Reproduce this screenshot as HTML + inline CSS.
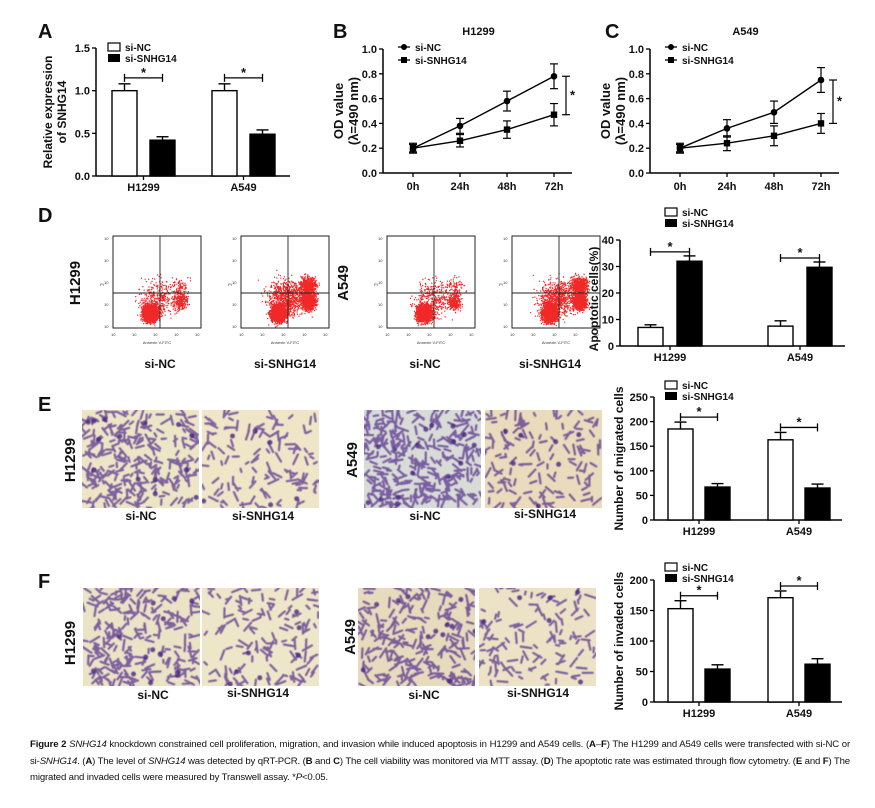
<!DOCTYPE html>
<html><head><meta charset="utf-8"><style>
body{margin:0;background:#fff;width:875px;height:808px;overflow:hidden;position:relative;font-family:"Liberation Sans",sans-serif}
svg{position:absolute;left:0;top:0}
#cap{position:absolute;left:30px;top:737px;width:820px;font-size:9.6px;line-height:16.5px;text-align:justify;color:#111;letter-spacing:-0.15px}
</style></head><body>
<svg id="fig" width="875" height="808">
<defs>
<filter id="blur1"><feGaussianBlur stdDeviation="0.5"/></filter>
</defs>
</svg>
<div id="cap"><b>Figure 2</b> <i>SNHG14</i> knockdown constrained cell proliferation, migration, and invasion while induced apoptosis in H1299 and A549 cells. (<b>A</b>–<b>F</b>) The H1299 and A549 cells were transfected with si-NC or si-<i>SNHG14</i>. (<b>A</b>) The level of <i>SNHG14</i> was detected by qRT-PCR. (<b>B</b> and <b>C</b>) The cell viability was monitored via MTT assay. (<b>D</b>) The apoptotic rate was estimated through flow cytometry. (<b>E</b> and <b>F</b>) The migrated and invaded cells were measured by Transwell assay. *<i>P</i>&lt;0.05.</div>
<script>
// ---- data ----
const groups = ["H1299", "A549"];
const aNC = [1.0, 1.0], aNCerr = [0.08, 0.08], aSN = [0.42, 0.49], aSNerr = [0.04, 0.05];
const aTicks = [0, 0.5, 1.0, 1.5];
const times = ["0h", "24h", "48h", "72h"];
const bNC = [0.2, 0.38, 0.58, 0.78], bNCerr = [0.04, 0.06, 0.08, 0.1];
const bSN = [0.2, 0.26, 0.35, 0.47], bSNerr = [0.03, 0.05, 0.07, 0.09];
const cNC = [0.2, 0.36, 0.49, 0.75], cNCerr = [0.04, 0.07, 0.09, 0.1];
const cSN = [0.2, 0.24, 0.30, 0.40], cSNerr = [0.03, 0.06, 0.08, 0.08];
const lineTicks = [0, 0.2, 0.4, 0.6, 0.8, 1.0];
const dNC = [7, 7.5], dNCerr = [1, 2], dSN = [32, 29.7], dSNerr = [2, 2];
const dTicks = [0, 10, 20, 30, 40];
const eNC = [185, 163], eNCerr = [14, 15], eSN = [67, 65], eSNerr = [7, 8];
const eTicks = [0, 50, 100, 150, 200, 250];
const fNC = [153, 171], fNCerr = [13, 11], fSN = [54, 62], fSNerr = [7, 9];
const fTicks = [0, 50, 100, 150, 200];

const NS = "http://www.w3.org/2000/svg";
const svg = document.getElementById("fig");
const defs = svg.querySelector("defs");
function el(tag, attrs, parent, text) {
  const e = document.createElementNS(NS, tag);
  for (const k in attrs) e.setAttribute(k, attrs[k]);
  if (text !== undefined) e.textContent = text;
  (parent || svg).appendChild(e);
  return e;
}
function txt(x, y, s, size, opts, parent) {
  const a = Object.assign({x: x, y: y, "font-size": size, "font-family": "Liberation Sans, sans-serif", fill: "#111"}, opts || {});
  return el("text", a, parent, s);
}
function panelLabel(x, y, s) {
  const t = txt(x, y, s, 20, {"font-weight": "bold"});
  
  
}
function legend(g, x, y) {
  const r1 = el("rect", {x: x, y: y, width: 12, height: 8, fill: "#fff", stroke: "#000", "stroke-width": 1.2}, g);
  
  
  const t1 = txt(x + 17, y + 8, "si-NC", 10, {"font-weight": "bold"}, g);
  
  
  const r2 = el("rect", {x: x, y: y + 11, width: 12, height: 8, fill: "#000"}, g);
  
  
  const t2 = txt(x + 17, y + 19, "si-SNHG14", 10, {"font-weight": "bold"}, g);
  
  
}

function barChart(cfg) {
  const g = el("g", {});
  
  
  const ymax = cfg.ticks[cfg.ticks.length - 1];
  const Y = v => cfg.y0 - v / ymax * (cfg.y0 - cfg.yTop);
  el("line", {x1: cfg.ax, y1: cfg.yTop, x2: cfg.ax, y2: cfg.y0, stroke: "#000", "stroke-width": 1.5}, g);
  el("line", {x1: cfg.ax, y1: cfg.y0, x2: cfg.axEnd, y2: cfg.y0, stroke: "#000", "stroke-width": 1.5}, g);
  cfg.ticks.forEach(t => {
    el("line", {x1: cfg.ax - 4, y1: Y(t), x2: cfg.ax, y2: Y(t), stroke: "#000", "stroke-width": 1.3}, g);
    const lab = txt(cfg.ax - 6, Y(t) + 4, cfg.fmt(t), 11, {"text-anchor": "end", "font-weight": "bold"}, g);
    
    
  });
  const yl = txt(0, 0, cfg.ylabel, 12, {"text-anchor": "middle", "font-weight": "bold", transform: `translate(${cfg.ylx},${(cfg.yTop + cfg.y0) / 2 + (cfg.ylShift || 0)}) rotate(-90)`}, g);
  
  
  if (cfg.ylabel2) {
    const y2 = txt(0, 0, cfg.ylabel2, 12, {"text-anchor": "middle", "font-weight": "bold", transform: `translate(${cfg.ylx + 14},${(cfg.yTop + cfg.y0) / 2}) rotate(-90)`}, g);
    
    
  }
  const bw = cfg.bw;
  groups.forEach((gname, i) => {
    const gx = cfg.gx[i];
    const xs = [gx, gx + bw + cfg.gap];
    [[cfg.nc, cfg.ncErr, "#fff", "si-nc"], [cfg.sn, cfg.snErr, "#000", "si-snhg14"]].forEach(([vals, errs, fill, nm], j) => {
      const v = vals[i], e = errs[i];
      const cx = xs[j] + bw / 2;
      el("line", {x1: cx, y1: Y(v + e), x2: cx, y2: Y(v), stroke: "#000", "stroke-width": 1.4}, g);
      el("line", {x1: cx - 6, y1: Y(v + e), x2: cx + 6, y2: Y(v + e), stroke: "#000", "stroke-width": 1.4}, g);
      const r = el("rect", {x: xs[j], y: Y(v), width: bw, height: cfg.y0 - Y(v), fill: fill, stroke: "#000", "stroke-width": 1.4}, g);
      
      
    });
    const by = Y(Math.max(cfg.nc[i] + cfg.ncErr[i], cfg.sn[i] + cfg.snErr[i])) - cfg.bracketGap;
    const x1 = xs[0] + bw / 2, x2 = xs[1] + bw / 2;
    el("line", {x1: x1, y1: by, x2: x2, y2: by, stroke: "#000", "stroke-width": 1.3}, g);
    el("line", {x1: x1, y1: by - 4, x2: x1, y2: by + 4, stroke: "#000", "stroke-width": 1.3}, g);
    el("line", {x1: x2, y1: by - 4, x2: x2, y2: by + 4, stroke: "#000", "stroke-width": 1.3}, g);
    const s = txt((x1 + x2) / 2, by - 1, "*", 13, {"text-anchor": "middle", "font-weight": "bold"}, g);
    
    
    el("line", {x1: gx + bw + cfg.gap / 2, y1: cfg.y0, x2: gx + bw + cfg.gap / 2, y2: cfg.y0 + 4, stroke: "#000", "stroke-width": 1.3}, g);
    const gl = txt(gx + bw + cfg.gap / 2, cfg.y0 + 15, gname, 11, {"text-anchor": "middle", "font-weight": "bold"}, g);
    
    
  });
  legend(g, cfg.legX, cfg.legY);
}

function lineChart(cfg) {
  const g = el("g", {});
  
  
  const Y = v => cfg.y0 - v * (cfg.y0 - cfg.yTop);
  const X = i => cfg.x0 + i * cfg.dx;
  el("line", {x1: cfg.ax, y1: cfg.yTop, x2: cfg.ax, y2: cfg.y0, stroke: "#000", "stroke-width": 1.5}, g);
  el("line", {x1: cfg.ax, y1: cfg.y0, x2: X(3) + 18, y2: cfg.y0, stroke: "#000", "stroke-width": 1.5}, g);
  lineTicks.forEach(t => {
    el("line", {x1: cfg.ax - 4, y1: Y(t), x2: cfg.ax, y2: Y(t), stroke: "#000", "stroke-width": 1.3}, g);
    const l = txt(cfg.ax - 6, Y(t) + 4, t.toFixed(1), 11, {"text-anchor": "end", "font-weight": "bold"}, g);
    
    
  });
  times.forEach((t, i) => {
    el("line", {x1: X(i), y1: cfg.y0, x2: X(i), y2: cfg.y0 + 4, stroke: "#000", "stroke-width": 1.3}, g);
    const l = txt(X(i), cfg.y0 + 17, t, 11, {"text-anchor": "middle", "font-weight": "bold"}, g);
    
    
  });
  const tt = txt((cfg.ax + X(3)) / 2 + 10, cfg.titleY, cfg.title, 11, {"text-anchor": "middle", "font-weight": "bold"}, g);
  
  
  const mid = (cfg.yTop + cfg.y0) / 2;
  const y1 = txt(0, 0, "OD value", 13, {"text-anchor": "middle", "font-weight": "bold", transform: `translate(${cfg.ax - 40},${mid}) rotate(-90)`}, g);
  
  
  const y2 = txt(0, 0, "(λ=490 nm)", 13, {"text-anchor": "middle", "font-weight": "bold", transform: `translate(${cfg.ax - 25},${mid}) rotate(-90)`}, g);
  
  
  [[cfg.nc, cfg.ncErr, "circle", "si-nc"], [cfg.sn, cfg.snErr, "square", "si-snhg14"]].forEach(([vals, errs, mk, nm]) => {
    const pts = vals.map((v, i) => X(i) + "," + Y(v)).join(" ");
    const pl = el("polyline", {points: pts, fill: "none", stroke: "#000", "stroke-width": 1.4}, g);
    
    
    vals.forEach((v, i) => {
      const e = errs[i];
      el("line", {x1: X(i), y1: Y(v + e), x2: X(i), y2: Y(v - e), stroke: "#000", "stroke-width": 1.2}, g);
      el("line", {x1: X(i) - 4, y1: Y(v + e), x2: X(i) + 4, y2: Y(v + e), stroke: "#000", "stroke-width": 1.2}, g);
      el("line", {x1: X(i) - 4, y1: Y(v - e), x2: X(i) + 4, y2: Y(v - e), stroke: "#000", "stroke-width": 1.2}, g);
      let m;
      if (mk === "circle") m = el("circle", {cx: X(i), cy: Y(v), r: 3.3, fill: "#000"}, g);
      else m = el("rect", {x: X(i) - 3.2, y: Y(v) - 3.2, width: 6.4, height: 6.4, fill: "#000"}, g);
      
      
    });
  });
  const lx = cfg.ax + 15, ly = cfg.yTop - 2;
  el("line", {x1: lx, y1: ly, x2: lx + 12, y2: ly, stroke: "#000", "stroke-width": 1.3}, g);
  el("circle", {cx: lx + 6, cy: ly, r: 3, fill: "#000"}, g);
  const l1 = txt(lx + 17, ly + 4, "si-NC", 10, {"font-weight": "bold"}, g);
  
  
  el("line", {x1: lx, y1: ly + 13, x2: lx + 12, y2: ly + 13, stroke: "#000", "stroke-width": 1.3}, g);
  el("rect", {x: lx + 3, y: ly + 10, width: 6, height: 6, fill: "#000"}, g);
  const l2 = txt(lx + 17, ly + 17, "si-SNHG14", 10, {"font-weight": "bold"}, g);
  
  
  const bx = X(3) + 12;
  const top = Y(cfg.nc[3]), bot = Y(cfg.sn[3]);
  el("line", {x1: bx, y1: top, x2: bx, y2: bot, stroke: "#000", "stroke-width": 1.2}, g);
  el("line", {x1: bx - 4, y1: top, x2: bx + 4, y2: top, stroke: "#000", "stroke-width": 1.2}, g);
  el("line", {x1: bx - 4, y1: bot, x2: bx + 4, y2: bot, stroke: "#000", "stroke-width": 1.2}, g);
  const st = txt(bx + 4, (top + bot) / 2 + 4, "*", 13, {"font-weight": "bold"}, g);
  
  
}

panelLabel(38, 38, "A"); panelLabel(333, 38, "B"); panelLabel(605, 38, "C");
panelLabel(38, 222, "D"); panelLabel(38, 411, "E"); panelLabel(38, 588, "F");

barChart({name: "chart-a-relative-expression", ax: 96, axEnd: 290, y0: 176, yTop: 48, ticks: aTicks, fmt: t => t.toFixed(1),
  nc: aNC, ncErr: aNCerr, sn: aSN, snErr: aSNerr, gx: [112, 212], bw: 25, gap: 13, bracketGap: 6,
  ylabel: "Relative expression", ylabel2: "of SNHG14", ylx: 52, legX: 108, legY: 43});
lineChart({name: "chart-b-h1299-mtt", ax: 383, x0: 413, dx: 47, y0: 173, yTop: 49, nc: bNC, ncErr: bNCerr, sn: bSN, snErr: bSNerr, title: "H1299", titleY: 35});
lineChart({name: "chart-c-a549-mtt", ax: 650, x0: 680, dx: 47, y0: 173, yTop: 49, nc: cNC, ncErr: cNCerr, sn: cSN, snErr: cSNerr, title: "A549", titleY: 35});
barChart({name: "chart-d-apoptotic-cells", ax: 620, axEnd: 845, y0: 346, yTop: 240, ticks: dTicks, fmt: t => String(t),
  nc: dNC, ncErr: dNCerr, sn: dSN, snErr: dSNerr, gx: [638, 768], bw: 25, gap: 14, bracketGap: 4,
  ylabel: "Apoptotic cells(%)", ylx: 598, ylShift: 6, legX: 665, legY: 208});
barChart({name: "chart-e-migrated-cells", ax: 654, axEnd: 842, y0: 520, yTop: 397, ticks: eTicks, fmt: t => String(t),
  nc: eNC, ncErr: eNCerr, sn: eSN, snErr: eSNerr, gx: [668, 768], bw: 25, gap: 12, bracketGap: 5,
  ylabel: "Number of migrated cells", ylx: 623, legX: 665, legY: 381});
barChart({name: "chart-f-invaded-cells", ax: 654, axEnd: 842, y0: 702, yTop: 580, ticks: fTicks, fmt: t => String(t),
  nc: fNC, ncErr: fNCerr, sn: fSN, snErr: fSNerr, gx: [668, 768], bw: 25, gap: 12, bracketGap: 5,
  ylabel: "Number of invaded cells", ylx: 623, legX: 665, legY: 563});

// Flow cytometry plots: [x, name, lowerRightCount, upperRightCount, diffuse]
const flowBoxes = [[113, "h1299-si-nc", 260, 90, 350], [241, "h1299-si-snhg14", 1000, 650, 900], [387, "a549-si-nc", 300, 90, 350], [512, "a549-si-snhg14", 950, 650, 800]];
let seed = 7;
function rnd() { seed = (seed * 16807) % 2147483647; return seed / 2147483647; }
function gauss() { return (rnd() + rnd() + rnd() + rnd() - 2) / 1.15; }
flowBoxes.forEach(([bx, nm, nLR, nUR, nDiff]) => {
  const g = el("g", {});
  
  
  const w = 88, h = 92, by = 236;
  let d = "";
  function dot(cx, cy) {
    if (cx < bx + 1 || cx > bx + w - 1 || cy < by + 1 || cy > by + h - 1) return;
    d += `M${cx.toFixed(1)} ${cy.toFixed(1)}h1.2v1.2h-1.2z`;
  }
  for (let k = 0; k < 1600; k++) dot(bx + 37 + gauss() * 7.5, by + 77 + gauss() * 8.5);
  for (let k = 0; k < nLR; k++) dot(bx + 67 + gauss() * 7, by + 65 + gauss() * 8);
  for (let k = 0; k < nUR; k++) dot(bx + 67 + gauss() * 8, by + 50 + gauss() * 9);
  for (let k = 0; k < nDiff; k++) dot(bx + 45 + gauss() * 18, by + 62 + gauss() * 18);
  el("path", {d: d, fill: "#f02828"}, g);
  el("rect", {x: bx, y: by, width: w, height: h, fill: "none", stroke: "#222", "stroke-width": 1}, g);
  el("line", {x1: bx + 47, y1: by, x2: bx + 47, y2: by + h, stroke: "#222", "stroke-width": 0.9}, g);
  el("line", {x1: bx, y1: by + 57, x2: bx + w, y2: by + 57, stroke: "#222", "stroke-width": 0.9}, g);
  for (let k = 0; k < 5; k++) {
    txt(bx - 9, by + 4 + k * 22, "10", 4, {fill: "#333"}, g);
    txt(bx - 2 + k * 21, by + h + 8, "10", 4, {fill: "#333"}, g);
  }
  txt(bx + w / 2, by + h + 16, "Annexin V-FITC", 4, {"text-anchor": "middle", fill: "#333"}, g);
  txt(bx - 13, by + 50, "PI", 4, {fill: "#333"}, g);
});
[[160, 368, "si-NC"], [285, 368, "si-SNHG14"], [425, 368, "si-NC"], [550, 368, "si-SNHG14"]].forEach(([x, y, s]) => {
  const t = txt(x, y, s, 12, {"text-anchor": "middle", "font-weight": "bold"});
  
  
});
[[80, 283, "H1299"], [348, 283, "A549"]].forEach(([x, y, s]) => {
  const t = txt(0, 0, s, 15, {"text-anchor": "middle", "font-weight": "bold", transform: `translate(${x},${y}) rotate(-90)`});
  
  
});

// Transwell images: [x, y, name, density, background]
const imgs = [[82, 410, "e-h1299-si-nc", 1, "#ece6c6"], [202, 410, "e-h1299-si-snhg14", 0.45, "#efe6c8"], [364, 410, "e-a549-si-nc", 1.15, "#d8dcd6"], [485, 410, "e-a549-si-snhg14", 0.5, "#e9dbbb"],
  [83, 588, "f-h1299-si-nc", 0.9, "#eae3c6"], [202, 588, "f-h1299-si-snhg14", 0.5, "#eee6c8"], [358, 588, "f-a549-si-nc", 0.85, "#e6dbbd"], [479, 588, "f-a549-si-snhg14", 0.45, "#ece3c6"]];
imgs.forEach(([x, y, nm, dens, bg], idx) => {
  const g = el("g", {});
  
  
  const w = 117, h = 98;
  const cp = el("clipPath", {id: "clip" + idx}, defs);
  el("rect", {x: x, y: y, width: w, height: h}, cp);
  g.setAttribute("clip-path", `url(#clip${idx})`);
  el("rect", {x: x, y: y, width: w, height: h, fill: bg}, g);
  let d = "";
  const n = Math.round(260 * dens);
  for (let k = 0; k < n; k++) {
    const cx = x + rnd() * w, cy = y + rnd() * h;
    const a = rnd() * Math.PI, L = 1.5 + rnd() * 4;
    const dx = Math.cos(a) * L, dy = Math.sin(a) * L;
    d += `M${(cx - dx).toFixed(1)} ${(cy - dy).toFixed(1)}L${(cx + dx).toFixed(1)} ${(cy + dy).toFixed(1)}`;
  }
  el("path", {d: d, stroke: "#5a3590", "stroke-width": 2.2, "stroke-linecap": "round", fill: "none", opacity: 0.75, filter: "url(#blur1)"}, g);
  let d2 = "";
  const n2 = Math.round(14 * dens);
  for (let k = 0; k < n2; k++) {
    const cx = x + rnd() * w, cy = y + rnd() * h;
    d2 += `M${cx.toFixed(1)} ${cy.toFixed(1)}m-2.5 0a2.5 2.5 0 1 0 5 0a2.5 2.5 0 1 0 -5 0`;
  }
  el("path", {d: d2, fill: "#4a2580", opacity: 0.8, filter: "url(#blur1)"}, g);
});
[[141, 520, "si-NC"], [263, 520, "si-SNHG14"], [425, 520, "si-NC"], [545, 518, "si-SNHG14"],
 [153, 699, "si-NC"], [258, 697, "si-SNHG14"], [424, 699, "si-NC"], [538, 697, "si-SNHG14"]].forEach(([x, y, s]) => {
  const t = txt(x, y, s, 12, {"text-anchor": "middle", "font-weight": "bold"});
  
  
});
[[75, 460, "H1299"], [357, 460, "A549"], [75, 643, "H1299"], [355, 637, "A549"]].forEach(([x, y, s]) => {
  const t = txt(0, 0, s, 15, {"text-anchor": "middle", "font-weight": "bold", transform: `translate(${x},${y}) rotate(-90)`});
  
  
});
</script>
</body></html>
